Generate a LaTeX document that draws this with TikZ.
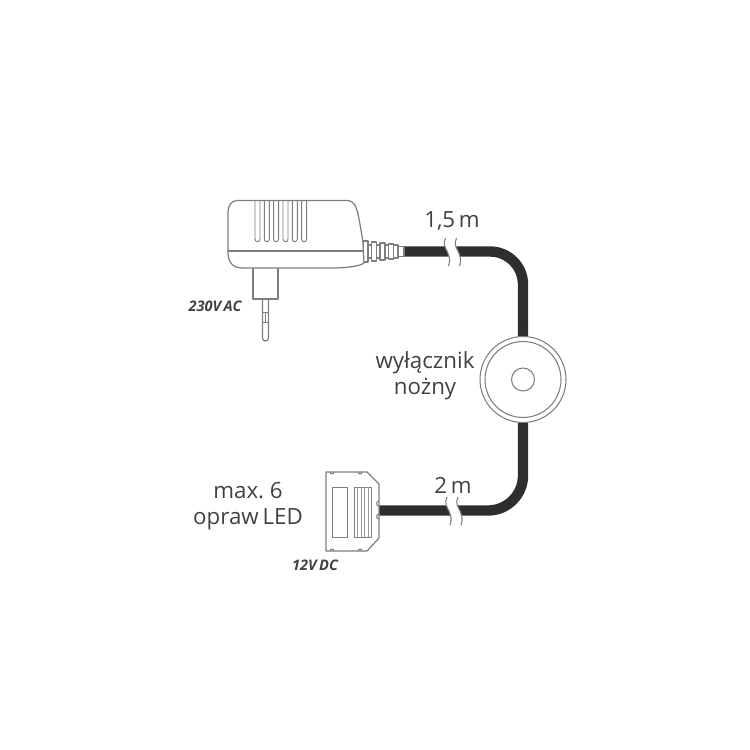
\documentclass[tikz,border=0pt]{standalone}
\usepackage{fontspec}
\setmainfont[WordSpace=0.65]{Open Sans}
\definecolor{ink}{HTML}{3F4142}
\definecolor{cablecol}{HTML}{2C2E2F}
\definecolor{linecol}{HTML}{7C7E7F}
\tikzset{
  outline/.style={draw=linecol,line width=0.7pt,fill=white,line join=round},
  thinline/.style={draw=linecol,line width=0.55pt},
  gridline/.style={draw=linecol!80,line width=0.45pt},
  cable/.style={draw=cablecol,line width=5.9pt},
  label/.style={text=ink,font=\fontsize{12.7}{14.6}\selectfont,inner sep=0pt,align=center},
  volt/.style={text=ink,font=\fontsize{8.3}{10}\selectfont\bfseries\itshape,inner sep=0pt},
  gapline/.style={draw=linecol,line width=0.6pt},
  hubring/.style={circle,draw=linecol,line width=0.6pt,fill=white,inner sep=0pt},
}
\newcommand{\cablegap}[2]{%
  \begin{scope}[shift={(#1,#2)}]
    \fill[white] (0,-14) .. controls (-3,-8) and (0,-4) .. (2,0) .. controls (4,5) and (5,9) .. (3,14)
      -- (14,14) .. controls (16,9) and (15,5) .. (13,0) .. controls (11,-4) and (8,-8) .. (11,-14) -- cycle;
    \draw[gapline] (0,-14) .. controls (-3,-8) and (0,-4) .. (2,0) .. controls (4,5) and (5,9) .. (3,14);
    \draw[gapline] (11,-14) .. controls (8,-8) and (11,-4) .. (13,0) .. controls (15,5) and (16,9) .. (14,14);
  \end{scope}}
\begin{document}
\begin{tikzpicture}[x=0.02cm,y=-0.02cm]
\useasboundingbox (0,0) rectangle (750,750);

% named ends of the two cable runs
\coordinate (cableA) at (403,251.5);
\coordinate (cornerA) at (523,251.5);
\coordinate (switchC) at (523,379.5);
\coordinate (cornerB) at (523,510.5);
\coordinate (plugEnd) at (379,510.5);

% cable runs with rounded bends
\draw[cable,rounded corners=0.66cm] (cableA) -- (cornerA) -- (switchC);
\draw[cable,rounded corners=0.70cm] (switchC) -- (cornerB) -- (plugEnd);

% cable length breaks
\cablegap{445.5}{252}
\cablegap{447}{511}

% foot switch
\node[hubring,minimum size=1.72cm] (switchOuter) at (switchC) {};
\node[hubring,minimum size=1.52cm] (switchInner) at (switchC) {};
\node[hubring,minimum size=0.46cm] (switchHub) at (switchC) {};

% mains plug
\draw[outline] (262.5,299) -- (262.5,338) arc[start angle=180,end angle=360,radius=0.06cm] -- (268.5,299) -- cycle;
\draw[thinline] (262.5,312) -- (268.5,312) (262.5,322) -- (268.5,322) (265.5,312) -- (265.5,322);
\draw[outline] (253,266) rectangle (278,299);

% strain relief of the adapter cord
\draw[outline] (396,246.5) rectangle (404,256.5);
\draw[outline] (362,245) rectangle (398,258);
\foreach \rx/\rh in {363/10.5,371.5/9.5,380/8.5,388.5/7.5}{
  \draw[outline] (\rx,251.5-\rh) rectangle (\rx+5,251.5+\rh);
}

% adapter housing
\draw[outline] (237,200.5) -- (348,200.5)
  .. controls (354,201) and (356,206) .. (358,214)
  .. controls (360,224) and (362,235) .. (363,243)
  -- (364,263)
  .. controls (360,266) and (350,267.5) .. (335,268)
  -- (243,268)
  .. controls (233,268) and (228,263) .. (228,252)
  -- (228,214)
  .. controls (228,205) and (231,201) .. (237,200.5) -- cycle;
\draw[draw=linecol,line width=1.2pt] (228,251) -- (363,251);
\foreach \sx in {255,264.3,273.6,283,292.3,301.6}{
  \draw[thinline] (\sx,200.5) -- (\sx,239.2) arc[start angle=180,end angle=360,radius=0.05cm] -- (\sx+5,200.5);
}

% LED distribution block
\draw[outline] (326,472) -- (367,472) -- (379,484) -- (379,538) -- (367,551) -- (326,551) -- cycle;
\draw[thinline] (332,487) rectangle (347,537);
\draw[thinline] (354,487) rectangle (371,537);
\foreach \gx in {357.5,361,364.5,368}{\draw[gridline] (\gx,487) -- (\gx,537);}
\foreach \tx in {332,360}{
  \draw[thinline] (\tx-2,472) arc[start angle=180,end angle=360,radius=0.04cm];
  \draw[thinline] (\tx-2,551) arc[start angle=180,end angle=0,radius=0.04cm];
}
\draw[thinline] (379,501) arc[start angle=90,end angle=270,radius=0.05cm];
\draw[thinline] (379,514) arc[start angle=90,end angle=270,radius=0.05cm];

% labels
\node[label] (lenA) at (452,221) {1,5 m};
\node[label] (lenB) at (453,485) {2 m};
\node[label] (switchName) at (425,375.5) {wyłącznik\\nożny};
\node[label] (fixtures) at (248,506) {max. 6\\opraw LED};
\node[volt] (voltAC) at (215,306) {230V AC};
\node[volt] (voltDC) at (315,565) {12V DC};
\end{tikzpicture}
\end{document}
